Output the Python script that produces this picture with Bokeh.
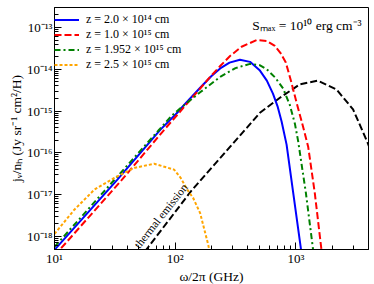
import math
from bokeh.plotting import figure
from bokeh.models import FixedTicker, CustomJSTickFormatter, Label, Range1d
from bokeh.embed import file_html
from bokeh.resources import INLINE

# ---- data (frequency in GHz, emissivity in Jy sr^-1 cm^2 / H) ----
blue_freq = [10.0, 33.2, 75.2, 104, 116, 161, 200, 236, 282, 344, 417, 504, 575, 646, 708, 762, 838, 951, 1094, 1148]
blue_j = [4.79e-19, 2.29e-17, 3.55e-16, 9.12e-16, 1.32e-15, 3.63e-15, 6.92e-15, 1.05e-14, 1.45e-14, 1.70e-14,
          1.51e-14, 9.33e-15, 5.37e-15, 2.63e-15, 1.26e-15, 5.62e-16, 1.58e-16, 1.10e-17, 5.89e-19, 2.0e-19]

red_freq = [10.0, 35.8, 82.6, 110, 161, 195, 236, 285, 355, 473, 575, 670, 750, 826, 912, 1019, 1135, 1265, 1435, 1630, 1698]
red_j = [3.47e-19, 2.19e-17, 3.80e-16, 9.77e-16, 3.47e-15, 6.61e-15, 1.20e-14, 2.09e-14, 3.47e-14, 5.01e-14,
         4.79e-14, 3.63e-14, 2.40e-14, 1.45e-14, 5.25e-15, 1.51e-15, 4.79e-16, 1.41e-16, 1.10e-17, 4.79e-19, 1.78e-19]

green_freq = [10.0, 31.9, 72.4, 92.7, 116, 161, 236, 316, 417, 501, 575, 676, 785, 891, 982, 1045, 1211, 1390, 1462]
green_j = [5.62e-19, 2.40e-17, 3.39e-16, 7.59e-16, 1.32e-15, 2.82e-15, 6.61e-15, 1.07e-14, 1.35e-14, 1.26e-14,
           1.0e-14, 6.31e-15, 3.47e-15, 1.41e-15, 5.01e-16, 1.91e-16, 1.10e-17, 4.79e-19, 1.78e-19]

orange_freq = [10.0, 14.6, 21.4, 31.3, 45.8, 67.0, 98.0, 111, 126, 141, 161, 188, 200]
orange_j = [1.15e-18, 4.37e-18, 1.32e-17, 2.51e-17, 4.37e-17, 5.50e-17, 3.98e-17, 2.53e-17, 1.32e-17, 8.32e-18,
            3.63e-18, 6.31e-19, 2.51e-19]

thermal_freq = [50.0, 57.5, 135, 392, 504, 738, 1079, 1520, 2170, 2980, 3940, 4170]
thermal_j = [2.8e-19, 4.79e-19, 1.20e-17, 3.98e-16, 9.12e-16, 2.09e-15, 4.37e-15, 5.37e-15, 3.31e-15, 1.10e-15,
             1.74e-16, 1.12e-16]

series_labels = ["z = 2.0 × 10¹⁴ cm", "z = 1.0 × 10¹⁵ cm", "z = 1.952 × 10¹⁵ cm", "z = 2.5 × 10¹⁵ cm"]
x_major = [10, 100, 1000]
y_major = [1e-18, 1e-17, 1e-16, 1e-15, 1e-14, 1e-13]

SERIF = "Liberation Serif"

p = figure(frame_width=314, frame_height=242, x_axis_type="log", y_axis_type="log",
           x_range=Range1d(10, 4000), y_range=Range1d(10 ** -18.312, 10 ** -12.520),
           output_backend="svg", toolbar_location=None,
           min_border_left=54, min_border_right=4, min_border_top=7, min_border_bottom=28)

p.xgrid.grid_line_color = None
p.ygrid.grid_line_color = None
p.outline_line_color = "black"
p.outline_line_alpha = 1.0
p.outline_line_width = 1
p.background_fill_color = "white"
p.border_fill_color = "white"

x_minor = [m * 10 ** e for e in (1, 2, 3) for m in range(2, 10) if m * 10 ** e <= 4000]
y_minor = [m * 10.0 ** e for e in range(-19, -12) for m in range(2, 10)]
p.xaxis.ticker = FixedTicker(ticks=x_major, minor_ticks=x_minor)
p.yaxis.ticker = FixedTicker(ticks=y_major, minor_ticks=y_minor)

fmt_code = """
const e = Math.round(Math.log10(tick));
const sup = {"-": "\\u207b", "0": "\\u2070", "1": "\\u00b9", "2": "\\u00b2", "3": "\\u00b3",
             "4": "\\u2074", "5": "\\u2075", "6": "\\u2076", "7": "\\u2077", "8": "\\u2078", "9": "\\u2079"};
return "10" + String(e).split("").map(c => sup[c]).join("");
"""
p.xaxis.formatter = CustomJSTickFormatter(code=fmt_code)
p.yaxis.formatter = CustomJSTickFormatter(code=fmt_code)

for ax in (p.xaxis[0], p.yaxis[0]):
    ax.major_tick_in = 7
    ax.major_tick_out = 0
    ax.minor_tick_in = 4
    ax.minor_tick_out = 0
    ax.axis_line_color = "black"
    ax.major_tick_line_color = "black"
    ax.minor_tick_line_color = "black"
    ax.major_label_text_font = SERIF
    ax.major_label_text_font_size = "13px"
    ax.major_label_text_color = "black"
    ax.major_label_standoff = 1
    ax.axis_label_text_font = SERIF
    ax.axis_label_text_font_size = "13.5px"
    ax.axis_label_text_font_style = "normal"
    ax.axis_label_text_color = "black"
    ax.axis_label_standoff = 0
p.yaxis.major_label_standoff = 2

p.xaxis.axis_label = "ω/2π (GHz)"
p.yaxis.axis_label = "jᵥ/nₕ (Jy sr⁻¹ cm²/H)"

p.line(thermal_freq, thermal_j, line_color="black", line_width=2, line_dash="7 3")
p.line(blue_freq, blue_j, line_color="#0000ff", line_width=2, legend_label=series_labels[0])
p.line(red_freq, red_j, line_color="#ff0000", line_width=2, line_dash="7 3", legend_label=series_labels[1])
p.line(green_freq, green_j, line_color="#008000", line_width=2, line_dash="6 3 2 3", legend_label=series_labels[2])
p.line(orange_freq, orange_j, line_color="#ffa500", line_width=2, line_dash="3 2", legend_label=series_labels[3])

lg = p.legend[0]
lg.location = (0, 177)
lg.margin = 0
lg.padding = 9
lg.spacing = 0
lg.label_height = 13
lg.glyph_height = 13
lg.glyph_width = 25
lg.label_standoff = 7
lg.label_text_font = SERIF
lg.label_text_font_size = "12px"
lg.label_text_color = "black"
lg.background_fill_alpha = 0
lg.border_line_color = None

p.add_layout(Label(x=3510, y=1.09e-13, text="Sₘₐₓ = 10¹⁰ erg cm⁻³", text_align="right",
                   text_baseline="middle", text_font=SERIF, text_font_size="13.5px", text_color="black"))
p.add_layout(Label(x=76.0, y=3.1e-18, text="thermal emission", angle=math.radians(51.6),
                   text_align="center", text_baseline="middle", text_font=SERIF,
                   text_font_size="11.5px", text_color="black"))

open("out.html", "w").write(file_html(p, INLINE))
